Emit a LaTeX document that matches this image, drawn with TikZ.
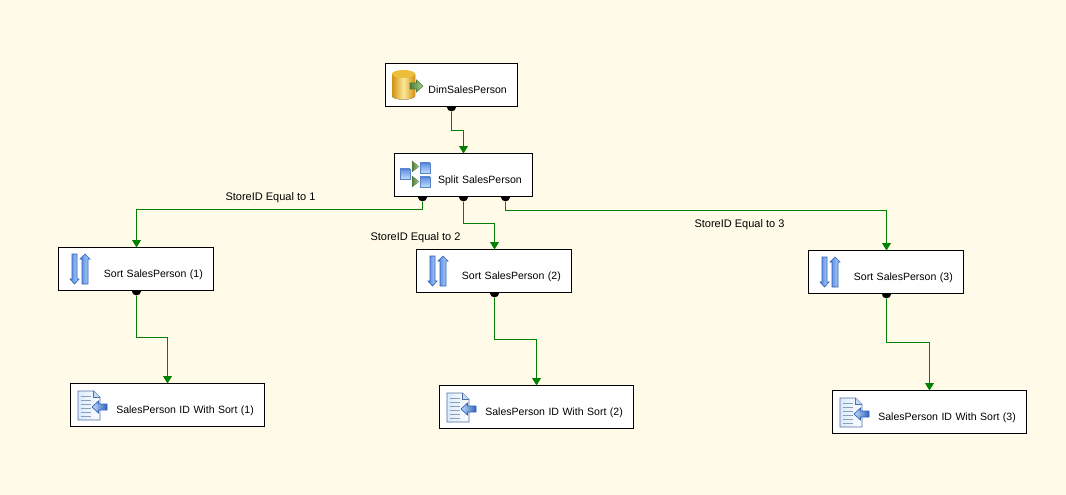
\documentclass[tikz,border=0pt]{standalone}
\usepackage{fontspec}
\setmainfont{Liberation Sans}
\usetikzlibrary{arrows.meta,shapes.geometric}

\definecolor{paper}{HTML}{FFFBE8}
\definecolor{flowgreen}{HTML}{008000}
\definecolor{iconblue}{HTML}{4F82E0}
\definecolor{iconpale}{HTML}{BFDCFB}
\definecolor{iconedge}{HTML}{2F62B8}
\definecolor{golddark}{HTML}{D2920F}
\definecolor{goldpale}{HTML}{FBE89A}
\definecolor{goldlid}{HTML}{EDBE3A}
\definecolor{leafdark}{HTML}{4F7A3C}
\definecolor{leafpale}{HTML}{A9D48E}

\tikzset{
	task/.style={draw=black, line width=0.75pt, outer sep=0pt, fill=white, minimum height=32.25pt, inner xsep=8pt, inner ysep=0pt, align=right, text height=12.5pt, text depth=0pt, font=\fontsize{7.9}{10}\selectfont},
	port/.style={fill=black, shape=semicircle, shape border rotate=180, anchor=chord center, inner sep=0pt, minimum width=6pt, minimum height=3.5pt},
	flow/.style={draw=flowgreen, line width=0.75pt, -{Triangle[length=5.5pt, width=6.5pt]}},
	flowlabel/.style={font=\fontsize{8.25}{10}\selectfont, inner sep=0pt},
	square/.style={draw=iconedge!80!white, line width=0.6pt, shading angle=135, top color=iconblue!90!white, bottom color=iconpale},
	leaf/.style={left color=leafdark, right color=leafpale},
	pics/dbicon/.style={code={
		\fill[left color=golddark, right color=golddark, middle color=goldpale] (6.5,10.5) -- (29.5,10.5) -- (29.5,32) .. controls (29.5,37.5) and (6.5,37.5) .. (6.5,32) -- cycle;
		\fill[goldlid] (18,10.5) ellipse (11.5 and 4);
		\draw[draw=leafdark, line width=0.4pt, leaf] (24.5,19.5) -- (31,19.5) -- (31,16.5) -- (37.5,22.5) -- (31,28.5) -- (31,25.5) -- (24.5,25.5) -- cycle;
	}},
	pics/spliticon/.style={code={
		\draw[square] (5.5,15.5) rectangle (15.5,25.5);
		\draw[square] (25.5,9.5) rectangle (35.5,19.5);
		\draw[square] (25.5,23.5) rectangle (35.5,33.5);
		\fill[leaf] (17.5,7.5) -- (24.5,13) -- (17.5,18.5) -- cycle;
		\fill[leaf] (17.5,22.5) -- (24.5,28) -- (17.5,33.5) -- cycle;
	}},
	pics/sorticon/.style={code={
		\draw[draw=iconedge, line width=0.5pt, left color=iconblue, right color=iconpale] (13.5,6.5) -- (18.5,6.5) -- (18.5,31.5) -- (20.5,31.5) -- (16,36.5) -- (11.5,31.5) -- (13.5,31.5) -- cycle;
		\draw[draw=iconedge, line width=0.5pt, left color=iconblue, right color=iconpale] (23.5,36.5) -- (29.5,36.5) -- (29.5,11.5) -- (31.5,11.5) -- (26.5,6.5) -- (21.5,11.5) -- (23.5,11.5) -- cycle;
	}},
	pics/docicon/.style={code={
		\draw[draw=iconedge!60!gray, line width=0.6pt, left color=iconpale!60!white, right color=white] (7.5,7.5) -- (23,7.5) -- (29.5,14) -- (29.5,36.5) -- (7.5,36.5) -- cycle;
		\draw[draw=iconedge!60!gray, line width=0.5pt, fill=iconpale] (23,7.5) -- (23,14) -- (29.5,14);
		\foreach \y in {13,17,...,33}
			\draw[iconedge!45!gray!70, line width=0.5pt] (10,\y) -- (20,\y);
		\draw[draw=iconedge, line width=0.5pt, left color=iconpale, right color=iconedge] (36.5,20.5) -- (28,20.5) -- (28,17.5) -- (21.5,23.5) -- (28,29.5) -- (28,26.5) -- (36.5,26.5) -- cycle;
	}},
}

\begin{document}
\begin{tikzpicture}[x=0.75pt, y=-0.75pt]
	\useasboundingbox[fill=paper] (0,0) rectangle (1066,495);

	\node[task, text width=83pt] (dim) at (451.5,85) {DimSalesPerson};
	\node[task, text width=87.5pt] (split) at (463.5,175) {Split SalesPerson};
	\node[task, text width=100.25pt] (sortA) at (136,269) {Sort SalesPerson (1)};
	\node[task, text width=100.25pt] (sortB) at (494,271) {Sort SalesPerson (2)};
	\node[task, text width=100.25pt] (sortC) at (886,272) {Sort SalesPerson (3)};
	\node[task, text width=129.5pt] (destA) at (167.5,405) {SalesPerson ID With Sort (1)};
	\node[task, text width=129.5pt] (destB) at (536.5,407) {SalesPerson ID With Sort (2)};
	\node[task, text width=129.5pt] (destC) at (929.5,412) {SalesPerson ID With Sort (3)};

	\pic at (dim.north west) {dbicon};
	\pic at (split.north west) {spliticon};
	\pic at (sortA.north west) {sorticon};
	\pic at (sortB.north west) {sorticon};
	\pic at (sortC.north west) {sorticon};
	\pic at (destA.north west) {docicon};
	\pic at (destB.north west) {docicon};
	\pic at (destC.north west) {docicon};

	\node[port] (dimport) at (dim.south) {};
	\node[port, xshift=-30.75pt] (splitportA) at (split.south) {};
	\node[port] (splitportB) at (split.south) {};
	\node[port, xshift=31.5pt] (splitportC) at (split.south) {};
	\node[port, xshift=0.375pt] (sortportA) at (sortA.south) {};
	\node[port, xshift=0.375pt] (sortportB) at (sortB.south) {};
	\node[port, xshift=0.375pt] (sortportC) at (sortC.south) {};

	\draw[flow] (dimport.apex) -- ++(0,19) -| (split.north);
	\draw[flow] (splitportA.apex) -- ++(0,8) -| ([xshift=0.375pt]sortA.north);
	\draw[flow] (splitportB.apex) -- ++(0,22) -| ([xshift=0.375pt]sortB.north);
	\draw[flow] (splitportC.apex) -- ++(0,9) -| ([xshift=0.375pt]sortC.north);
	\draw[flow] (sortportA.apex) -- ++(0,42) -| (destA.north);
	\draw[flow] (sortportB.apex) -- ++(0,42) -| (destB.north);
	\draw[flow] (sortportC.apex) -- ++(0,44) -| (destC.north);

	\node[flowlabel] (labelA) at (270.5,198) {StoreID Equal to 1};
	\node[flowlabel] (labelB) at (415.5,238) {StoreID Equal to 2};
	\node[flowlabel] (labelC) at (739.5,225) {StoreID Equal to 3};
\end{tikzpicture}
\end{document}
